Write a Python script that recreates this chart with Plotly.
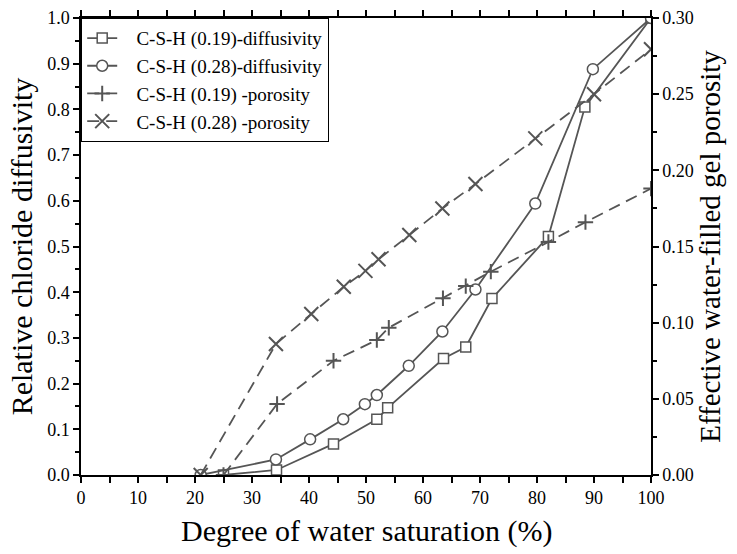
import plotly.graph_objects as go

# Data
x_sq = [25, 34.3, 44.3, 51.9, 53.8, 63.6, 67.5, 72.1, 82.0, 88.4, 100]
y_sq = [0, 0.011, 0.068, 0.122, 0.147, 0.255, 0.280, 0.386, 0.522, 0.805, 1.0]

x_ci = [21, 34.2, 40.2, 46.0, 49.8, 51.9, 57.5, 63.4, 69.2, 79.7, 89.8, 100]
y_ci = [0, 0.034, 0.078, 0.122, 0.155, 0.175, 0.239, 0.314, 0.406, 0.594, 0.888, 1.0]

x_pl = [25, 34.4, 44.3, 51.9, 54.0, 63.5, 67.5, 71.9, 82.0, 88.5, 100]
y_pl = [0, 0.0466, 0.075, 0.0886, 0.0967, 0.116, 0.124, 0.1335, 0.153, 0.166, 0.188]

x_cr = [21, 34.2, 40.4, 46.1, 49.9, 52.2, 57.6, 63.4, 69.2, 79.7, 90.0, 100]
y_cr = [0, 0.086, 0.1057, 0.1236, 0.134, 0.1416, 0.1575, 0.175, 0.191, 0.221, 0.250, 0.2795]

names = ["C-S-H (0.19)-diffusivity", "C-S-H (0.28)-diffusivity",
         "C-S-H (0.19) -porosity", "C-S-H (0.28) -porosity"]
x_title = "Degree of water saturation (%)"

GRAY = "#555555"
FONT = "Liberation Serif"
PAD = "\u00a0\u00a0\u00a0"

fig = go.Figure()
fig.add_trace(go.Scatter(
    x=x_sq, y=y_sq, name=PAD + names[0], mode="lines+markers",
    line=dict(color=GRAY, width=1.8),
    marker=dict(symbol="square", size=10, color="white", line=dict(color=GRAY, width=1.5)),
))
fig.add_trace(go.Scatter(
    x=x_ci, y=y_ci, name=PAD + names[1], mode="lines+markers",
    line=dict(color=GRAY, width=1.8),
    marker=dict(symbol="circle", size=11, color="white", line=dict(color=GRAY, width=1.5)),
))
fig.add_trace(go.Scatter(
    x=x_pl, y=y_pl, name=PAD + names[2], mode="lines+markers", yaxis="y2",
    line=dict(color=GRAY, width=1.8, dash="12px,7px"),
    marker=dict(symbol="cross-thin", size=11, color=GRAY, line=dict(color=GRAY, width=2)),
))
fig.add_trace(go.Scatter(
    x=x_cr, y=y_cr, name=PAD + names[3], mode="lines+markers", yaxis="y2",
    line=dict(color=GRAY, width=1.8, dash="12px,7px"),
    marker=dict(symbol="x-thin", size=14, color=GRAY, line=dict(color=GRAY, width=2)),
))

axis_common = dict(
    showline=True, linecolor="black", linewidth=1.5,
    ticks="outside", ticklen=6, tickwidth=1.5, tickcolor="black",
    showgrid=False, zeroline=False, automargin=False,
    tickfont=dict(family=FONT, size=18, color="black"),
)

fig.update_layout(
    width=737, height=554,
    margin=dict(l=81, r=86, t=18, b=79, autoexpand=False),
    paper_bgcolor="white", plot_bgcolor="white",
    font=dict(family=FONT, color="black"),
    xaxis=dict(
        range=[0, 100], dtick=10, tick0=0, mirror="allticks",
        minor=dict(dtick=5, ticklen=4, tickwidth=1.5, tickcolor="black", ticks="outside"),
        **axis_common,
    ),
    yaxis=dict(
        range=[0, 1.0], dtick=0.1, tick0=0, tickformat=".1f",
        minor=dict(dtick=0.05, ticklen=4, tickwidth=1.5, tickcolor="black", ticks="outside"),
        title=dict(text="Relative chloride diffusivity", font=dict(family=FONT, size=30), standoff=6),
        **axis_common,
    ),
    yaxis2=dict(
        range=[0, 0.30], dtick=0.05, tick0=0, tickformat=".2f",
        overlaying="y", side="right",
        minor=dict(dtick=0.025, ticklen=4, tickwidth=1.5, tickcolor="black", ticks="outside"),
        title=dict(text="Effective water-filled gel porosity", font=dict(family=FONT, size=29), standoff=6),
        **axis_common,
    ),
    legend=dict(
        x=0, y=1, xanchor="left", yanchor="top",
        bgcolor="white", bordercolor="black", borderwidth=1.2,
        font=dict(family=FONT, size=19, color="black"),
        tracegroupgap=0, itemwidth=30,
    ),
    annotations=[dict(
        text=x_title, xref="paper", yref="paper", x=0.5, y=-0.122,
        xanchor="center", yanchor="middle", showarrow=False,
        font=dict(family=FONT, size=30, color="black"),
    )],
    showlegend=True,
)

fig.write_html("out.html")
